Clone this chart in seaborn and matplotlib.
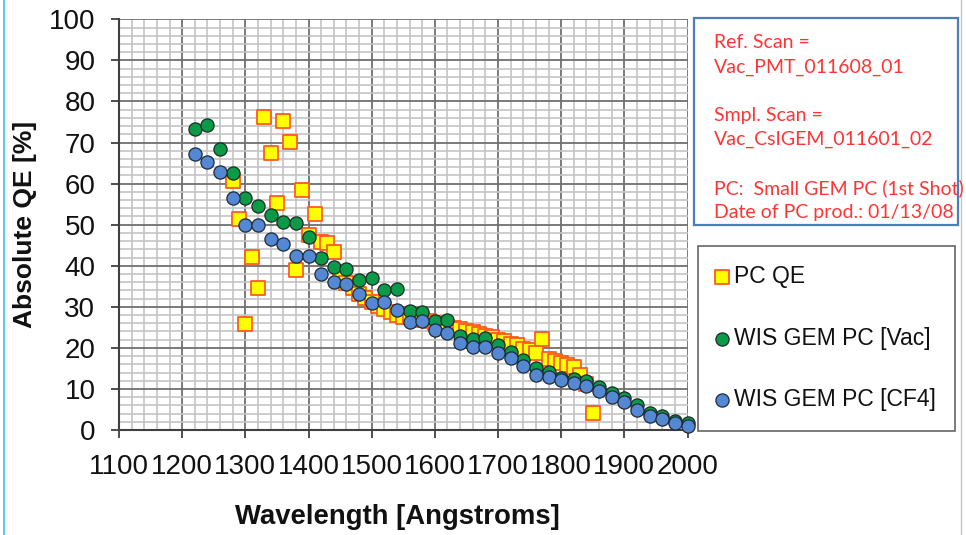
import matplotlib
matplotlib.use("Agg")
import matplotlib.pyplot as plt
from matplotlib.patches import Rectangle
from matplotlib.lines import Line2D
from matplotlib.ticker import MultipleLocator
import pandas as pd
import seaborn as sns

# PC QE measurement (10 A steps)
pc_wavelength = [1280, 1290, 1300, 1310, 1320, 1330, 1340, 1350, 1360, 1370,
                 1380, 1390, 1400, 1410, 1420, 1430, 1440, 1450, 1460, 1470,
                 1480, 1490, 1500, 1510, 1520, 1530, 1540, 1550, 1560, 1570,
                 1580, 1590, 1600, 1610, 1620, 1630, 1640, 1650, 1660, 1670,
                 1680, 1690, 1700, 1710, 1720, 1730, 1740, 1750, 1760, 1770,
                 1780, 1790, 1800, 1810, 1820, 1830, 1840, 1850]
pc_qe = [60.6, 51.3, 25.9, 42.1, 34.6, 76.3, 67.4, 55.3, 75.2, 70.2,
         38.9, 58.4, 47.5, 52.7, 45.8, 45.6, 43.3, 38.1, 35.7, 34.6,
         33.0, 32.2, 31.2, 30.2, 29.5, 28.7, 28.0, 27.6, 27.5, 27.0,
         26.8, 26.6, 26.0, 25.6, 25.2, 24.8, 24.6, 24.2, 23.8, 23.4,
         23.0, 22.6, 22.0, 21.6, 21.0, 20.8, 19.8, 19.6, 18.8, 22.2,
         17.2, 16.8, 16.3, 15.8, 15.4, 13.5, 11.2, 4.1]

# WIS GEM PC reference curves (20 A steps)
wis_wavelength = [1220, 1240, 1260, 1280, 1300, 1320, 1340, 1360, 1380, 1400,
                  1420, 1440, 1460, 1480, 1500, 1520, 1540, 1560, 1580, 1600,
                  1620, 1640, 1660, 1680, 1700, 1720, 1740, 1760, 1780, 1800,
                  1820, 1840, 1860, 1880, 1900, 1920, 1940, 1960, 1980, 2000]
wis_vac = [73.3, 74.3, 68.4, 62.5, 56.4, 54.5, 52.4, 50.7, 50.3, 46.9,
           41.8, 39.7, 39.1, 36.5, 37.0, 34.0, 34.3, 29.0, 28.7, 26.5,
           26.7, 22.8, 22.2, 22.5, 20.6, 19.0, 17.0, 15.2, 14.2, 12.7,
           12.3, 11.9, 10.4, 8.9, 7.8, 6.0, 4.1, 3.3, 2.3, 1.7]
wis_cf4 = [67.1, 65.3, 62.7, 56.5, 49.9, 49.9, 46.5, 45.2, 42.4, 42.4,
           38.1, 36.1, 35.5, 33.2, 31.0, 31.2, 29.2, 26.3, 26.5, 24.3,
           23.6, 21.2, 20.2, 20.2, 18.7, 17.6, 15.7, 13.4, 12.9, 12.1,
           11.4, 10.8, 9.6, 8.0, 6.9, 4.8, 3.5, 2.7, 1.7, 0.9]

series_labels = ["PC QE", "WIS GEM PC [Vac]", "WIS GEM PC [CF4]"]
x_ticks = [1100, 1200, 1300, 1400, 1500, 1600, 1700, 1800, 1900, 2000]
y_ticks = [0, 10, 20, 30, 40, 50, 60, 70, 80, 90, 100]

info_lines = ["Ref. Scan =", "Vac_PMT_011608_01", "",
              "Smpl. Scan =", "Vac_CsIGEM_011601_02", "",
              "PC:  Small GEM PC (1st Shot)", "Date of PC prod.: 01/13/08"]

pc_df = pd.DataFrame({"wavelength": pc_wavelength, "qe": pc_qe})
wis_df = pd.DataFrame({"wavelength": wis_wavelength, "vac": wis_vac, "cf4": wis_cf4})

sns.set_style("white")
plt.rcParams["font.family"] = ["Liberation Sans", "DejaVu Sans"]

W, H = 966, 535
fig = plt.figure(figsize=(W / 100, H / 100), dpi=100)
fig.patch.set_facecolor("white")

ax_l, ax_r, ax_t, ax_b = 119, 687.5, 19.3, 430
ax = fig.add_axes([ax_l / W, 1 - ax_b / H, (ax_r - ax_l) / W, (ax_b - ax_t) / H])

sns.scatterplot(data=pc_df, x="wavelength", y="qe", ax=ax, marker="s", s=105,
                color="#ffff00", edgecolor="#ff5a1e", linewidth=1.3,
                label=series_labels[0], clip_on=False, zorder=3)
sns.scatterplot(data=wis_df, x="wavelength", y="vac", ax=ax, marker="o", s=90,
                color="#0b9a48", edgecolor="#1c2c24", linewidth=0.9,
                label=series_labels[1], clip_on=False, zorder=4)
sns.scatterplot(data=wis_df, x="wavelength", y="cf4", ax=ax, marker="o", s=90,
                color="#5588d2", edgecolor="#1d2a3c", linewidth=0.9,
                label=series_labels[2], clip_on=False, zorder=5)

ax.set_xlim(1100, 2000)
ax.set_ylim(0, 100)
ax.set_xticks(x_ticks)
ax.set_yticks(y_ticks)
ax.xaxis.set_minor_locator(MultipleLocator(20))
ax.yaxis.set_minor_locator(MultipleLocator(2))
ax.set_axisbelow(True)
ax.grid(which="minor", color="#c4c4c4", linewidth=1.2)
ax.grid(which="major", color="#707070", linewidth=1.3)
ax.tick_params(which="minor", length=0)
ax.tick_params(which="major", direction="out", length=6, width=1.3,
               color="#404040", labelsize=20, pad=11, labelcolor="#111111")
ax.tick_params(axis="x", bottom=True)
ax.tick_params(axis="y", left=True)
for side in ("top", "right"):
    ax.spines[side].set_visible(False)
for side in ("left", "bottom"):
    ax.spines[side].set_color("#404040")
    ax.spines[side].set_linewidth(1.5)

ax.set_xlabel("Wavelength [Angstroms]", fontsize=19.8, fontweight="bold", color="#111111")
ax.set_ylabel("Absolute QE [%]", fontsize=19, fontweight="bold", color="#111111")
ax.xaxis.set_label_coords((397 - ax_l) / (ax_r - ax_l), -(517 - ax_b) / (ax_b - ax_t))
ax.yaxis.set_label_coords(-(ax_l - 25) / (ax_r - ax_l), (ax_b - 224) / (ax_b - ax_t))
ax.xaxis.label.set_verticalalignment("center")
ax.yaxis.label.set_verticalalignment("center")

# Legend box
handles, labels = ax.get_legend_handles_labels()
if ax.get_legend() is not None:
    ax.get_legend().remove()
leg = fig.legend(handles, labels, loc="upper left",
                 bbox_to_anchor=(698 / W, 1 - 246 / H), bbox_transform=fig.transFigure,
                 frameon=True, fancybox=False, shadow=False, fontsize=16.5,
                 borderpad=0.85, labelspacing=1.68, handlelength=0.4,
                 handletextpad=0.3, borderaxespad=0, markerscale=1.0)
leg.get_frame().set_edgecolor("#404040")
leg.get_frame().set_linewidth(1.2)
for t in leg.get_texts():
    t.set_color("#111111")

# Scan information box
fig.add_artist(Rectangle((694 / W, 1 - 225 / H), (958.3 - 694) / W, (225 - 18.3) / H,
                         transform=fig.transFigure, fill=False,
                         edgecolor="#4a7ebb", linewidth=1.6))
baseline = 48
for line in info_lines:
    if line:
        fig.text(714 / W, 1 - baseline / H, line, fontsize=14, color="#ff3434",
                 family=["Lato", "DejaVu Sans"], ha="left", va="baseline")
    baseline += 24.3

# Outer frame lines
fig.add_artist(Line2D([4 / W, 4 / W], [0, 1], transform=fig.transFigure,
                      color="#3cc4dc", linewidth=1.2))
fig.add_artist(Line2D([961 / W, 961 / W], [0, 1], transform=fig.transFigure,
                      color="#c4c4c4", linewidth=1.0))

fig.savefig("out.png", dpi=100, facecolor="white")
